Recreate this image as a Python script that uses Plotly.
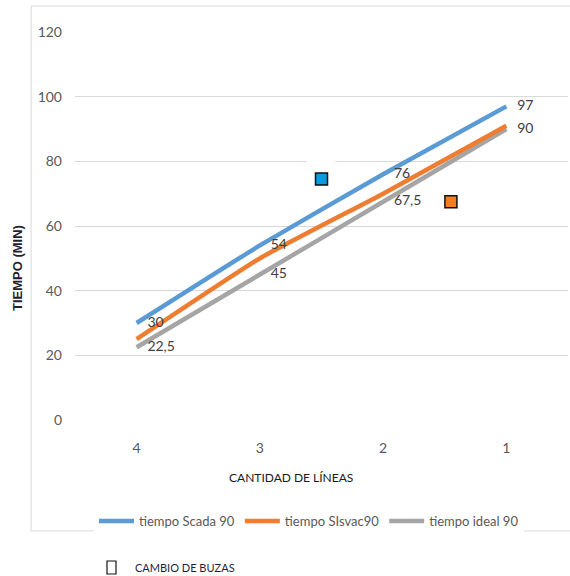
import plotly.graph_objects as go

categories = [4, 3, 2, 1]
scada = [30, 54, 76, 97]
sisvac = [25, 50, 70, 91]
ideal = [22.5, 45, 67.5, 90]
scada_labels = ["30", "54", "76", "97"]
ideal_labels = ["22,5", "45", "67,5", "90"]
cambio_x = [2.5, 1.45]
cambio_y = [74.5, 67.5]
cambio_colors = ["#0A9BDF", "#F57F20"]
y_ticks = [0, 20, 40, 60, 80, 100, 120]

NARROW = "Lato, Liberation Sans Narrow, sans-serif"
BLUE = "#5B9BD5"
ORANGE = "#ED7D31"
GRAY = "#A5A5A5"
PAD = "\u00a0\u00a0\u00a0"

fig = go.Figure()

fig.add_trace(go.Scatter(
    x=categories, y=ideal, name="tiempo ideal 90", mode="lines+text",
    line=dict(color=GRAY, width=4.5, shape="spline", smoothing=0.4),
    text=[PAD + t for t in ideal_labels], textposition="middle right",
    textfont=dict(family=NARROW, size=14, color="#404040"),
    legendrank=3, hoverinfo="skip"))
fig.add_trace(go.Scatter(
    x=categories, y=sisvac, name="tiempo SIsvac90", mode="lines",
    line=dict(color=ORANGE, width=4.5, shape="spline", smoothing=0.4),
    legendrank=2, hoverinfo="skip"))
fig.add_trace(go.Scatter(
    x=categories, y=scada, name="tiempo Scada 90", mode="lines+text",
    line=dict(color=BLUE, width=4.5, shape="spline", smoothing=0.4),
    text=[PAD + t for t in scada_labels], textposition="middle right",
    textfont=dict(family=NARROW, size=14, color="#404040"),
    legendrank=1, hoverinfo="skip"))
fig.add_trace(go.Scatter(
    x=cambio_x, y=cambio_y, mode="markers", showlegend=False,
    marker=dict(symbol="square", size=12, color=cambio_colors,
                line=dict(color="#111111", width=1.5)),
    hoverinfo="skip"))

shapes = [
    # chart frame
    dict(type="rect", xref="paper", yref="paper", x0=-0.089, x1=1.2,
         y0=-0.286, y1=1.067, line=dict(color="#D9D9D9", width=1),
         fillcolor="rgba(0,0,0,0)", layer="below"),
    # white patch over gridline near marker
    dict(type="rect", xref="x", yref="y", x0=2.62, x1=2.39, y0=79, y1=81,
         line=dict(width=0), fillcolor="white", layer="above"),
    # legend icon for CAMBIO DE BUZAS
    dict(type="rect", xref="paper", yref="paper", x0=(107 - 75) / 493,
         x1=(116 - 75) / 493, y0=(420 - 574) / 388, y1=(420 - 561) / 388,
         line=dict(color="#111111", width=1.2), fillcolor="white"),
]

annotations = [
    dict(text="CANTIDAD DE LÍNEAS", xref="paper", yref="paper",
         x=(291 - 75) / 493, y=(420 - 478) / 388, showarrow=False,
         xanchor="center", yanchor="middle",
         font=dict(family=NARROW, size=12, color="#1a1a1a")),
    dict(text="<b>TIEMPO (MIN)</b>", xref="paper", yref="paper",
         x=(17 - 75) / 493, y=(420 - 268) / 388, showarrow=False,
         textangle=-90, xanchor="center", yanchor="middle",
         font=dict(family="Liberation Sans, Arial, sans-serif", size=13,
                   color="#1f1f2f")),
    dict(text="CAMBIO DE BUZAS", xref="paper", yref="paper",
         x=(133 - 75) / 493, y=(420 - 567) / 388, showarrow=False,
         xanchor="left", yanchor="middle",
         font=dict(family=NARROW, size=11, color="#1f1f3f")),
]

fig.update_layout(
    width=570, height=576,
    margin=dict(l=75, r=2, t=32, b=156),
    paper_bgcolor="white", plot_bgcolor="white",
    showlegend=True,
    legend=dict(orientation="h", x=(309 - 75) / 493, y=(420 - 521) / 388,
                xanchor="center", yanchor="middle", bgcolor="white",
                itemwidth=35, traceorder="normal",
                font=dict(family=NARROW, size=13, color="#595959")),
    xaxis=dict(range=[4.5, 0.5], tickvals=categories,
               ticktext=[str(c) for c in categories],
               showgrid=False, zeroline=False, showline=False, ticks="",
               ticklabelstandoff=18,
               tickfont=dict(family=NARROW, size=14, color="#595959")),
    yaxis=dict(range=[0, 120], tickvals=y_ticks, showgrid=True,
               gridcolor="#D9D9D9", gridwidth=1, zeroline=False,
               showline=False, ticks="", ticklabelstandoff=12,
               tickfont=dict(family=NARROW, size=14, color="#595959")),
    shapes=shapes, annotations=annotations,
)

fig.write_html("out.html", config={"displayModeBar": False},
               post_script="document.body.style.margin='0';")
